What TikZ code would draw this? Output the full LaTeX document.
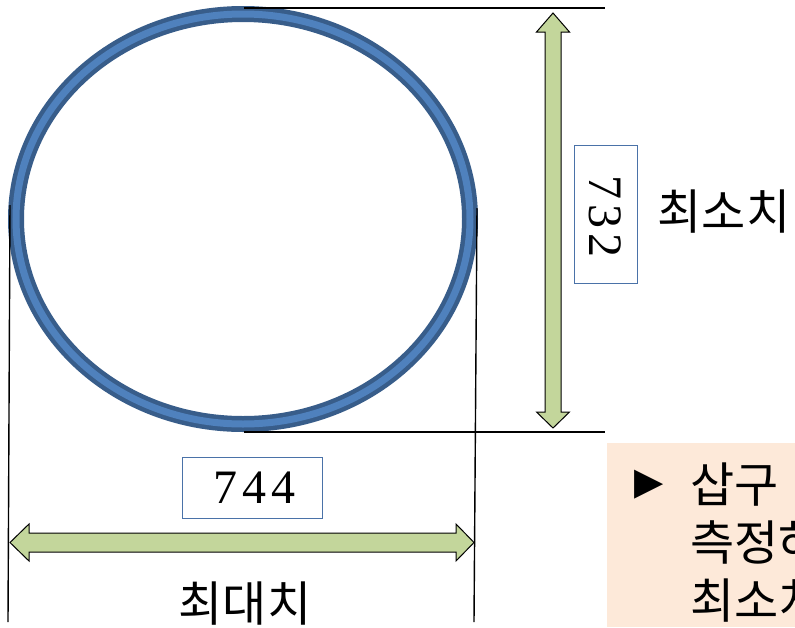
\documentclass[tikz,border=0pt]{standalone}
\usepackage{fontspec}
\setmainfont{Liberation Serif}
\newfontfamily\krfont{Noto Sans CJK KR}
\newfontfamily\dvfont{DejaVu Sans}
\newfontfamily\digitfont[LetterSpace=10]{Liberation Serif}
\definecolor{ringdark}{HTML}{385D8A}
\definecolor{ringlight}{HTML}{4F81BD}
\definecolor{boxblue}{HTML}{4A72A8}
\definecolor{arrowgreen}{HTML}{C3D69B}
\definecolor{peach}{HTML}{FDE9D9}
\tikzset{
  dimline/.style={black, line width=1.4pt},
  blockarrow/.style={fill=arrowgreen, draw=black, line width=1pt, line join=miter},
  numbox/.style={draw=boxblue, line width=0.9pt, inner sep=0pt, font=\digitfont\fontsize{48}{52}\selectfont},
  krlabel/.style={inner sep=0pt, font=\krfont\fontsize{48}{54}\selectfont},
}
\begin{document}
\begin{tikzpicture}[x=1pt,y=-1pt]
\clip (0,0) rectangle (795,627);
\fill[white] (0,0) rectangle (795,627);
% ring
\draw[ringdark, line width=16pt] (243,219) ellipse [x radius=227, y radius=205];
\draw[ringlight, line width=7pt] (243,219) ellipse [x radius=227, y radius=205];
% extension lines
\coordinate (tl) at (244,8);
\coordinate (tr) at (605,8);
\coordinate (bl) at (244,432);
\coordinate (br) at (605,432);
\coordinate (lv1) at (10,205);
\coordinate (lv2) at (8,622);
\coordinate (rv1) at (477,208);
\coordinate (rv2) at (474,622);
\draw[dimline] (tl) -- (tr);
\draw[dimline] (bl) -- (br);
\draw[dimline] (lv1) -- (lv2);
\draw[dimline] (rv1) -- (rv2);
% vertical double arrow
\draw[blockarrow] (553,13) -- (569.5,32) -- (561,32) -- (561,412) -- (569.5,412) -- (553,428)
  -- (536.5,412) -- (545,412) -- (545,32) -- (536.5,32) -- cycle;
% horizontal double arrow
\draw[blockarrow] (10,542.5) -- (29,524) -- (29,533) -- (456,533) -- (456,524) -- (474,542.5)
  -- (456,561) -- (456,552) -- (29,552) -- (29,561) -- cycle;
% number boxes
\node[numbox, minimum width=140pt, minimum height=61pt] (b744) at (252,487.5) {\hspace*{4.8pt}744};
\node[numbox, minimum width=138pt, minimum height=63pt, rotate=-90] (b732) at (605.5,214) {\hspace*{4.8pt}732};
% labels
\node[krlabel] (minlab) at (724,212) {최소치};
\node[krlabel] (maxlab) at (245,604) {최대치};
% note box
\fill[peach] (607,443) rectangle (795,627);
\node[inner sep=0pt, font=\dvfont\fontsize{38}{44}\selectfont] (tri) at (649,485) {▶};
\node[krlabel, anchor=west] (n1) at (690,485) {삽구};
\node[krlabel, anchor=west] (n2) at (690,542) {측정하};
\node[krlabel, anchor=west] (n3) at (690,601) {최소치};
\end{tikzpicture}
\end{document}
